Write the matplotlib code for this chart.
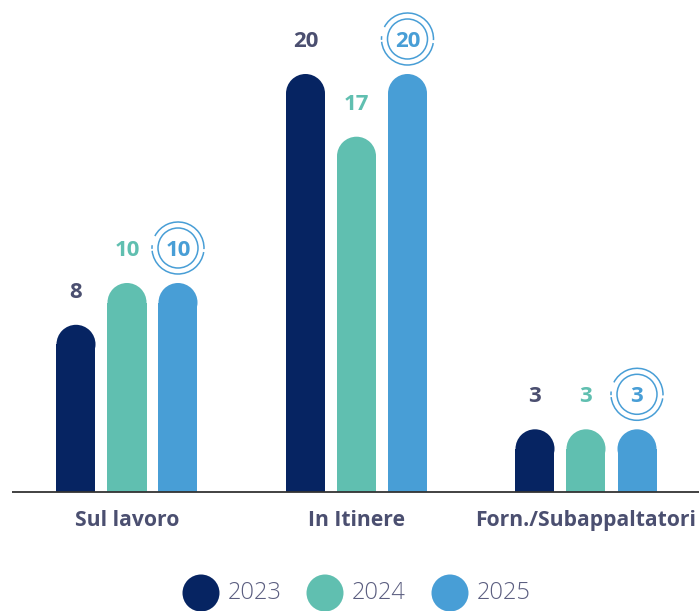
import matplotlib.pyplot as plt
from matplotlib.patches import Ellipse, Arc
import numpy as np

categories = ['Sul lavoro', 'In Itinere', 'Forn./Subappaltatori']
years = ['2023', '2024', '2025']
values_2023 = [8, 20, 3]
values_2024 = [10, 17, 3]
values_2025 = [10, 20, 3]

colors = ['#062462', '#60bfb0', '#489ed6']
label_colors = ['#4b4f70', '#60bfb0', '#489ed6']
text_color = '#4b4f70'

plt.rcParams['font.family'] = ['Open Sans', 'DejaVu Sans']

W, H = 699, 611
fig = plt.figure(figsize=(W / 100, H / 100), dpi=100)
ax = fig.add_axes([0, 0, 1, 1])

# pixel scales: group spacing and px per unit
px_x = 229.5
px_y = 20.9
x0_px, base_px = 127, 492
ax.set_xlim(-x0_px / px_x, (W - x0_px) / px_x)
ax.set_ylim(-(H - base_px) / px_y, base_px / px_y)
ax.axis('off')

bw = 39 / px_x
off = 51 / px_x
ry = (39 / 2) / px_y
x = np.arange(len(categories))

series = [values_2023, values_2024, values_2025]
for k, vals in enumerate(series):
    for i, v in enumerate(vals):
        xc = x[i] + (k - 1) * off
        ax.bar(xc, v - ry, width=bw, bottom=0, color=colors[k], linewidth=0)
        ax.add_patch(Ellipse((xc, v - ry), bw, 2 * ry, color=colors[k], linewidth=0))
        ty = v + 27 / px_y
        ax.text(xc, ty, str(v), ha='center', va='baseline', fontsize=16,
                fontweight='bold', color=label_colors[k])
        if k == 2:
            cy = ty + 8 / px_y
            r1, r2 = 20, 26
            ax.add_patch(Ellipse((xc, cy), 2 * r1 / px_x, 2 * r1 / px_y, fill=False,
                                 edgecolor=colors[k], linewidth=1.1))
            for a1, a2 in [(-25, 100), (130, 200), (230, 300)]:
                ax.add_patch(Arc((xc, cy), 2 * r2 / px_x, 2 * r2 / px_y,
                                 theta1=a1, theta2=a2, edgecolor=colors[k], linewidth=1.1))

# baseline
ax.plot([12 / px_x - x0_px / px_x, (W - x0_px) / px_x], [0, 0], color='#333333',
        linewidth=1.3, solid_capstyle='butt')

for i, c in enumerate(categories):
    ax.text(x[i], -34 / px_y, c, ha='center', va='baseline', fontsize=15.2,
            fontweight='bold', color=text_color)

# legend
leg_cx = [201, 325, 450]
ly = -(593 - base_px) / px_y
for k, yr in enumerate(years):
    cx = (leg_cx[k] - x0_px) / px_x
    ax.add_patch(Ellipse((cx, ly), 37 / px_x, 37 / px_y, color=colors[k], linewidth=0))
    ax.text(cx + 27 / px_x, ly, yr, ha='left', va='center', fontsize=17,
            fontweight='light', color='#5b5e80')

fig.savefig('out.png', dpi=100)
